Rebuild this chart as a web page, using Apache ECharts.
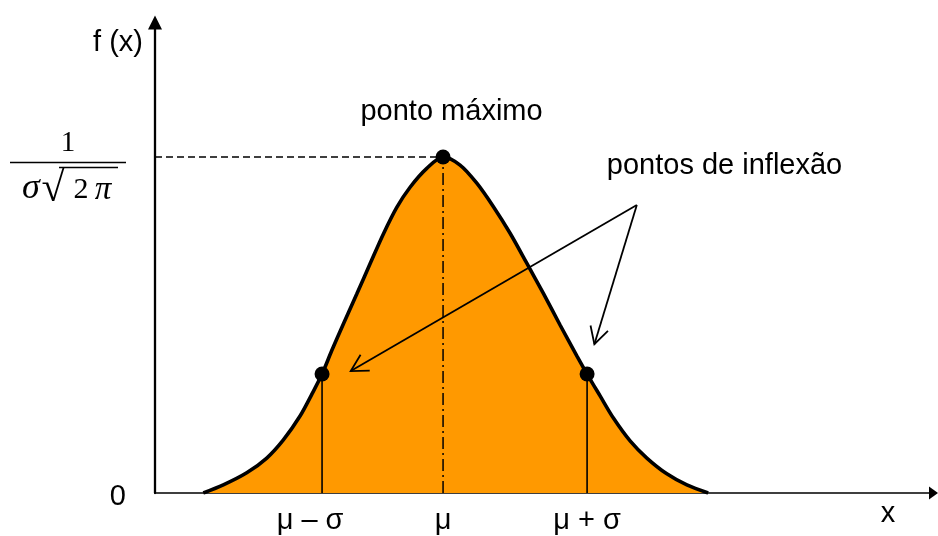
<!DOCTYPE html>
<html>
<head>
<meta charset="utf-8">
<script src="https://cdn.jsdelivr.net/npm/echarts@6/dist/echarts.min.js"></script>
<style>
  html, body { margin: 0; padding: 0; background: #fff; }
  #c { width: 938px; height: 536px; }
</style>
</head>
<body>
<div id="c"></div>
<script>
// Bell curve f(x): horizontal position in arbitrary units, height scaled so the maximum is 1
const curveX = [6.17, 8.72, 11.71, 14.27, 16.39, 18.52, 20.05, 21.33, 22.57, 24.05, 25.76, 27.46,
                29.16, 30.87, 32.57, 34.70, 36.78, 38.95, 41.09, 43.21, 45.34, 47.47, 49.59, 51.72,
                53.86, 55.17, 56.83, 58.53, 60.66, 62.80, 65.35, 67.91, 70.63];
const curveY = [0, 0.024, 0.060, 0.104, 0.158, 0.229, 0.295, 0.354, 0.424, 0.503, 0.592, 0.682,
                0.771, 0.850, 0.910, 0.966, 1.0, 0.976, 0.922, 0.852, 0.773, 0.684, 0.594, 0.500,
                0.408, 0.354, 0.289, 0.223, 0.155, 0.104, 0.057, 0.024, 0];

// maximum (μ) and the two inflection points (μ − σ, μ + σ)
const peak = [36.78, 1.0];
const inflections = [[21.33, 0.354], [55.17, 0.354]];

// tick labels under the x axis and beside the y axis
const xLabelPos = [19.80, 36.78, 55.17];
const xTickLabels = ['μ – σ', 'μ', 'μ + σ'];
const yTickValues = [0];
const yTickLabels = ['0'];

// annotation arrows: shared tail, one head per inflection point
const arrowFrom = [61.52, 0.857];
const arrowTips = [[24.99, 0.363], [56.10, 0.443]];

const xMax = 99.4;
const yMax = 1.4;

const SANS = '"Liberation Sans", Arial, sans-serif';
const SERIF = '"Liberation Serif", "Times New Roman", serif';

const chart = echarts.init(document.getElementById('c'), null, { renderer: 'canvas' });

const curveData = curveX.map((x, i) => [x, curveY[i]]);
const nearestLabel = (v, pos, labels) => {
  let best = 0;
  pos.forEach((p, i) => { if (Math.abs(p - v) < Math.abs(pos[best] - v)) best = i; });
  return labels[best];
};

const guideSeries = (data, type, width) => ({
  type: 'line', data, symbol: 'none', silent: true, z: 3,
  lineStyle: { color: '#000', width, type }
});

const option = {
  animation: false,
  backgroundColor: '#fff',
  grid: { left: 155, right: 4.5, top: 22.6, bottom: 43, containLabel: false },
  xAxis: {
    type: 'value', min: 0, max: xMax,
    axisLine: {
      show: true, onZero: true,
      symbol: ['none', 'triangle'], symbolSize: [13, 9],
      lineStyle: { color: '#000', width: 1.6 }
    },
    axisTick: { show: false },
    splitLine: { show: false },
    axisLabel: {
      customValues: xLabelPos,
      formatter: (v) => nearestLabel(v, xLabelPos, xTickLabels),
      margin: 13, color: '#000', fontSize: 29, fontFamily: SANS
    }
  },
  yAxis: {
    type: 'value', min: 0, max: yMax,
    axisLine: {
      show: true,
      symbol: ['none', 'triangle'], symbolSize: [14, 14],
      lineStyle: { color: '#000', width: 2.3 }
    },
    axisTick: { show: false },
    splitLine: { show: false },
    axisLabel: {
      customValues: yTickValues,
      formatter: (v) => nearestLabel(v, yTickValues, yTickLabels),
      margin: 29, color: '#000', fontSize: 29, fontFamily: SANS,
      verticalAlign: 'top', lineHeight: 8
    }
  },
  series: [
    {
      type: 'line', data: curveData, smooth: 0.3, symbol: 'none', z: 2,
      lineStyle: { color: '#000', width: 3.6 },
      areaStyle: { color: '#ff9900', opacity: 1, origin: 'start' }
    },
    guideSeries([[0, peak[1]], [peak[0], peak[1]]], [7, 4], 1.4),
    guideSeries([[peak[0], 0], [peak[0], peak[1]]], [12, 4, 2, 4], 1.5),
    ...inflections.map(p => guideSeries([[p[0], 0], [p[0], p[1]]], 'solid', 1.6)),
    {
      type: 'custom', z: 4, silent: true,
      data: arrowTips.map(t => [arrowFrom[0], arrowFrom[1], t[0], t[1]]),
      encode: { x: [0, 2], y: [1, 3] },
      renderItem: (params, api) => {
        const p0 = api.coord([api.value(0), api.value(1)]);
        const p1 = api.coord([api.value(2), api.value(3)]);
        const ang = Math.atan2(p0[1] - p1[1], p0[0] - p1[0]);
        const len = 19, spread = 0.5;
        const h1 = [p1[0] + len * Math.cos(ang + spread), p1[1] + len * Math.sin(ang + spread)];
        const h2 = [p1[0] + len * Math.cos(ang - spread), p1[1] + len * Math.sin(ang - spread)];
        const st = { stroke: '#000', lineWidth: 1.8, fill: null };
        return {
          type: 'group',
          children: [
            { type: 'line', shape: { x1: p0[0], y1: p0[1], x2: p1[0], y2: p1[1] }, style: st },
            { type: 'polyline', shape: { points: [h1, p1, h2] }, style: st }
          ]
        };
      }
    },
    {
      type: 'scatter', z: 5, silent: true,
      data: [peak, ...inflections],
      symbol: 'circle', symbolSize: 15,
      itemStyle: { color: '#000', opacity: 1 }
    }
  ]
};

chart.setOption(option);

// text annotations placed relative to the axes and marks
const px = (x, y) => chart.convertToPixel({ gridIndex: 0 }, [x, y]);
const o = px(0, 0);
const one = px(0, peak[1]);
const pk = px(peak[0], peak[1]);
const af = px(arrowFrom[0], arrowFrom[1]);
const xe = px(xMax, 0);

const txt = (text, x, y, font, align, extra) => Object.assign({
  type: 'text', x, y, silent: true, z: 10,
  style: { text, fill: '#000', font, textAlign: align || 'center', textVerticalAlign: 'middle' }
}, extra || {});

chart.setOption({
  graphic: [
    txt('f (x)', o[0] - 37, 43, '29px ' + SANS),
    txt('x', xe[0] - 45.5, o[1] + 21, '29px ' + SANS),
    txt('ponto máximo', pk[0] + 8.5, pk[1] - 45, '29px ' + SANS),
    txt('pontos de inflexão', af[0] - 30, af[1] - 39, '29px ' + SANS, 'left'),
    // 1 / (σ √(2π)) beside the maximum level of the y axis
    txt('1', o[0] - 87, one[1] - 14, '29px ' + SERIF),
    { type: 'line', silent: true, z: 10,
      shape: { x1: o[0] - 145, y1: one[1] + 5.5, x2: o[0] - 29, y2: one[1] + 5.5 },
      style: { stroke: '#000', lineWidth: 1.5 } },
    txt('σ', o[0] - 124, one[1] + 32, 'italic 36px ' + SERIF),
    txt('√', o[0] - 102, one[1] + 33, '42px ' + SERIF),
    { type: 'line', silent: true, z: 10,
      shape: { x1: o[0] - 96, y1: one[1] + 10.5, x2: o[0] - 37, y2: one[1] + 10.5 },
      style: { stroke: '#000', lineWidth: 1.3 } },
    txt('2', o[0] - 74, one[1] + 33.5, '30px ' + SERIF),
    txt('π', o[0] - 52, one[1] + 33.5, 'italic 33px ' + SERIF)
  ]
});
</script>
</body>
</html>
